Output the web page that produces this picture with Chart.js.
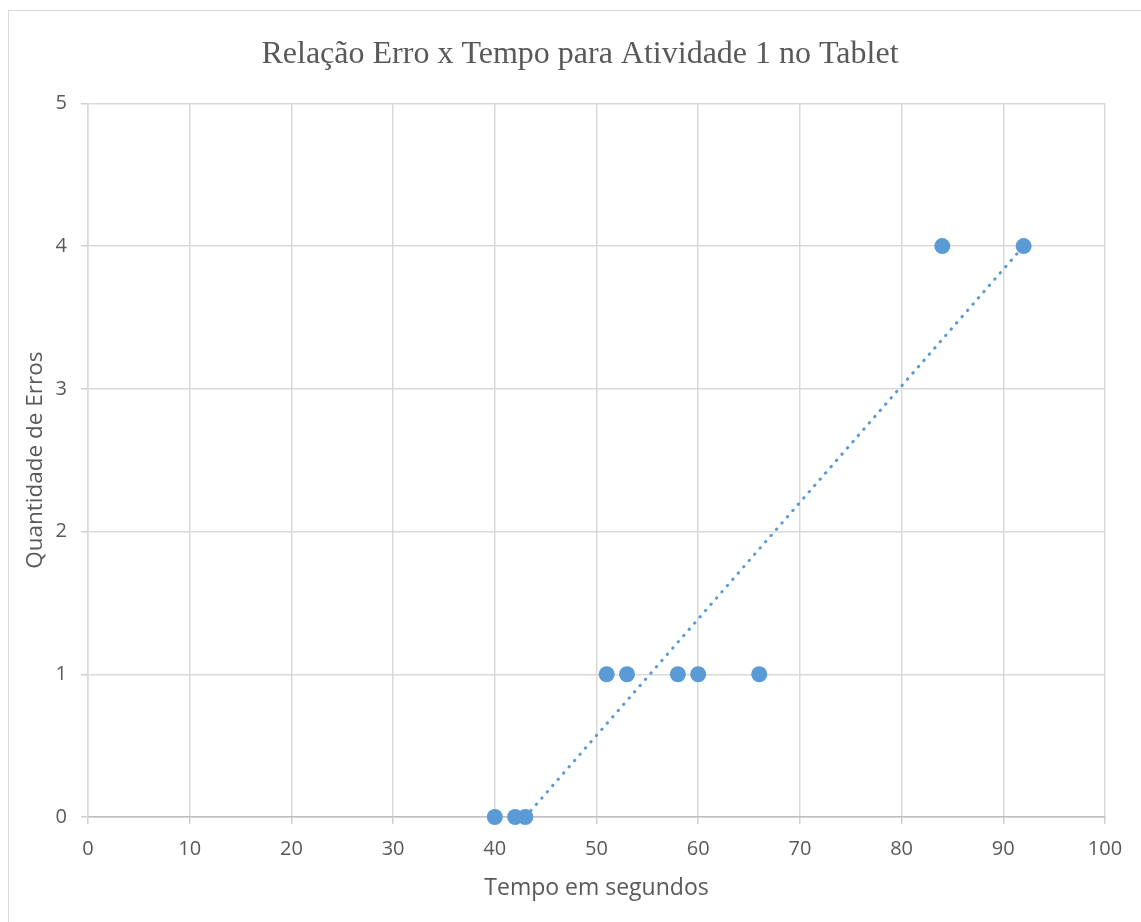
<!DOCTYPE html>
<html>
<head>
<meta charset="utf-8">
<script src="https://cdn.jsdelivr.net/npm/chart.js@4.4.1/dist/chart.umd.min.js"></script>
<style>
  html, body { margin: 0; padding: 0; background: #ffffff; overflow: hidden; }
  #wrap { position: relative; width: 1141px; height: 922px; overflow: hidden; }
  #frame { position: absolute; left: 8px; top: 10px; width: 2000px; height: 2000px;
           border-left: 1.5px solid #d9d9d9; border-top: 1.5px solid #d9d9d9; box-sizing: border-box; }
  canvas { position: absolute; left: 0; top: 0; }
</style>
</head>
<body>
<div id="wrap">
  <div id="frame"></div>
  <canvas id="c" width="1141" height="922"></canvas>
</div>
<script>
// ---- data ----
const chartTitle = "Relação Erro x Tempo para Atividade 1 no Tablet";
const xAxisTitle = "Tempo em segundos";
const yAxisTitle = "Quantidade de Erros";
const tempoSegundos = [40, 42, 43, 51, 53, 58, 60, 66, 84, 92];
const quantidadeErros = [0, 0, 0, 1, 1, 1, 1, 1, 4, 4];
// linear trendline as drawn (endpoints)
const trendX = [43, 92];
const trendY = [0, 4];
const xTicks = [0, 10, 20, 30, 40, 50, 60, 70, 80, 90, 100];
const yTicks = [0, 1, 2, 3, 4, 5];

const points = tempoSegundos.map((x, i) => ({ x: x, y: quantidadeErros[i] }));
const trend = trendX.map((x, i) => ({ x: x, y: trendY[i] }));

const textColor = '#595959';
const gridColor = '#d9d9d9';
const blue = '#5b9bd5';

// the reference centres its title on the whole (wider) chart frame, not the plot
const titleShift = {
  id: 'titleShift',
  afterLayout(chart) {
    const tb = chart.titleBlock;
    if (tb) { tb.left = 55; tb.right = 1105; }
  }
};

new Chart(document.getElementById('c'), {
  type: 'scatter',
  data: {
    datasets: [
      {
        label: 'Erros',
        data: points,
        backgroundColor: blue,
        borderColor: blue,
        pointRadius: 8,
        pointHoverRadius: 8,
        borderWidth: 0,
        clip: false,
        order: 2
      },
      {
        label: 'Linear',
        type: 'line',
        data: trend,
        borderColor: blue,
        borderWidth: 3,
        borderDash: [0.5, 7.8],
        borderCapStyle: 'round',
        pointRadius: 0,
        fill: false,
        showLine: true,
        order: 1
      }
    ]
  },
  plugins: [titleShift],
  options: {
    responsive: false,
    animation: false,
    events: [],
    layout: { padding: { left: 0, right: 36, top: 0, bottom: 0 } },
    plugins: {
      legend: { display: false },
      tooltip: { enabled: false },
      title: {
        display: true,
        text: chartTitle,
        color: textColor,
        font: { family: '"Liberation Serif", "Times New Roman", serif', size: 32, weight: 'normal' },
        padding: { top: 35, bottom: 30 }
      }
    },
    scales: {
      x: {
        type: 'linear',
        min: 0, max: 100,
        afterBuildTicks: (s) => { s.ticks = xTicks.map(v => ({ value: v })); },
        afterFit: (s) => { s.height = 105; },
        ticks: { color: textColor, font: { family: '"Open Sans", sans-serif', size: 20 }, padding: 13, maxRotation: 0 },
        grid: { color: gridColor, lineWidth: 1.5, tickLength: 7, tickColor: '#cfcfcf', drawTicks: true },
        border: { color: '#bfbfbf', width: 1.5 },
        title: { display: true, text: xAxisTitle, color: textColor,
                 font: { family: '"Open Sans", sans-serif', size: 23 }, padding: { top: 0, bottom: 20 } }
      },
      y: {
        type: 'linear',
        min: 0, max: 5,
        afterBuildTicks: (s) => { s.ticks = yTicks.map(v => ({ value: v })); },
        afterFit: (s) => { s.width = 88; },
        ticks: { color: textColor, font: { family: '"Open Sans", sans-serif', size: 20 }, padding: 14 },
        grid: { color: gridColor, lineWidth: 1.5, tickLength: 7, tickColor: '#cfcfcf', drawTicks: true },
        border: { color: gridColor, width: 1.5 },
        title: { display: true, text: yAxisTitle, color: textColor,
                 font: { family: '"Open Sans", sans-serif', size: 22.5 }, padding: { top: 22, bottom: 0 } }
      }
    }
  }
});
</script>
</body>
</html>
